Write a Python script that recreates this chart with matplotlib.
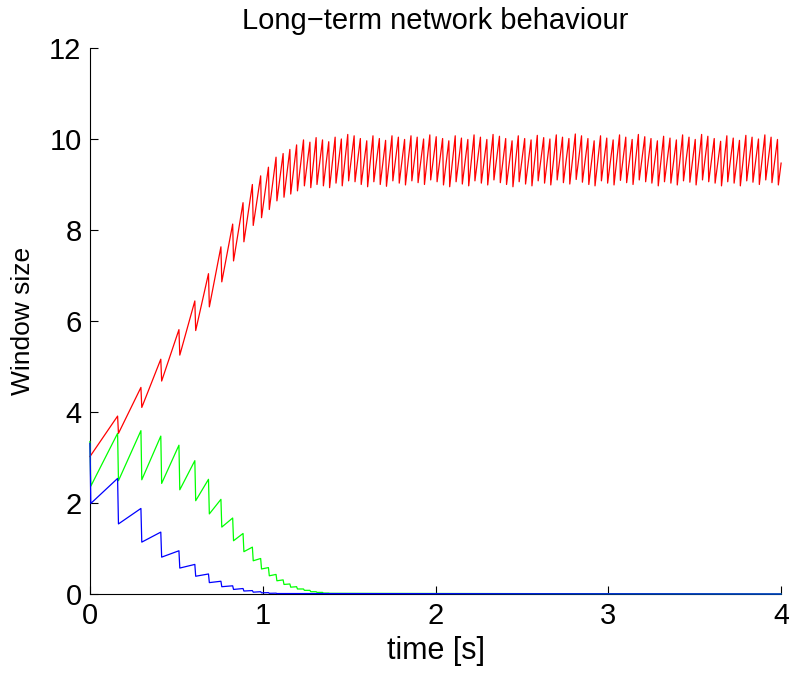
import matplotlib
matplotlib.use("Agg")
import matplotlib.pyplot as plt

plt.rcParams["font.family"] = ["Liberation Sans", "DejaVu Sans"]

# drop (loss) instants shared by all flows [s]
drop_times = [
    0.160, 0.295, 0.410, 0.515, 0.607, 0.686, 0.758, 0.826, 0.886, 0.940,
    0.988, 1.033, 1.077, 1.118, 1.157, 1.196,
    1.236, 1.273, 1.309, 1.346, 1.382, 1.419, 1.455, 1.492, 1.529, 1.565,
    1.602, 1.638, 1.675, 1.711, 1.748, 1.785, 1.821, 1.858, 1.894, 1.931,
    1.967, 2.004, 2.041, 2.077, 2.114, 2.150, 2.187, 2.223, 2.260, 2.297,
    2.333, 2.370, 2.406, 2.443, 2.479, 2.516, 2.553, 2.589, 2.626, 2.662,
    2.699, 2.735, 2.772, 2.809, 2.845, 2.882, 2.918, 2.955, 2.991, 3.028,
    3.065, 3.101, 3.138, 3.174, 3.211, 3.247, 3.284, 3.320, 3.357, 3.394,
    3.430, 3.467, 3.503, 3.540, 3.576, 3.613, 3.650, 3.686, 3.723, 3.759,
    3.796, 3.832, 3.869, 3.906, 3.942, 3.979,
]

# red flow: window just before / after each drop
red_start = 3.02
red_end = 9.47
red_peaks = [
    3.91, 4.54, 5.16, 5.81, 6.44, 7.04, 7.63, 8.13, 8.60, 9.00,
    9.19, 9.38, 9.60, 9.68, 9.77, 9.87,
    9.98, 9.93, 10.03, 9.98, 9.94, 10.04, 10.00, 10.10, 10.07, 10.01,
    9.96, 10.07, 10.01, 9.97, 10.07, 10.04, 9.99, 10.07, 10.04, 10.00,
    10.09, 10.05,
    10.01, 9.96, 10.07, 10.02, 9.99, 10.09, 10.04, 9.99, 10.10, 10.06,
    10.01, 9.96, 10.07, 10.01, 9.98, 10.08, 10.03, 10.00, 10.09, 10.04,
    10.01, 10.11,
    10.07, 10.01, 9.96, 10.07, 10.02, 9.98, 10.09, 10.04, 9.99, 10.10,
    10.05, 10.01, 9.96, 10.06, 10.02, 9.98, 10.09, 10.04, 9.99, 10.10,
    10.06, 10.01, 9.95, 10.07, 10.02, 9.97, 10.08, 10.04, 10.00, 10.09,
    10.04, 9.99,
]
red_troughs = [
    3.53, 4.10, 4.68, 5.25, 5.79, 6.31, 6.86, 7.32, 7.74, 8.10,
    8.27, 8.45, 8.64, 8.72, 8.79, 8.86,
    8.97, 8.93, 9.00, 8.97, 8.93, 9.03, 8.97, 9.08, 9.06, 9.00,
    8.95, 9.06, 9.00, 8.96, 9.08, 9.03, 8.99, 9.08, 9.04, 9.00,
    9.10, 9.06,
    8.99, 8.95, 9.06, 9.01, 8.97, 9.08, 9.03, 8.99, 9.10, 9.04,
    9.00, 8.95, 9.06, 9.01, 8.97, 9.08, 9.03, 8.99, 9.10, 9.04,
    9.01, 9.11,
    9.05, 9.00, 8.97, 9.08, 9.03, 8.99, 9.09, 9.04, 9.00, 9.10,
    9.06, 9.03, 8.97, 9.06, 9.03, 8.99, 9.08, 9.05, 8.99, 9.10,
    9.06, 9.03, 8.97, 9.06, 9.03, 8.97, 9.08, 9.05, 9.00, 9.10,
    9.04, 8.99,
]

# green flow
green_start = [3.35, 2.37]
green_peaks = [3.53, 3.59, 3.47, 3.27, 2.93, 2.52, 2.08, 1.67, 1.33, 1.03,
               0.78, 0.58, 0.43, 0.31, 0.22, 0.16, 0.11, 0.08, 0.05, 0.035, 0.02]
green_troughs = [2.49, 2.51, 2.43, 2.29, 2.05, 1.76, 1.47, 1.17, 0.93, 0.73,
                 0.55, 0.40, 0.29, 0.21, 0.15, 0.11, 0.08, 0.05, 0.035, 0.02, 0.015]

# blue flow
blue_start = [3.31, 1.99]
blue_peaks = [2.54, 1.88, 1.36, 0.95, 0.65, 0.44, 0.28, 0.18, 0.12, 0.075,
              0.05, 0.03, 0.018]
blue_troughs = [1.54, 1.14, 0.81, 0.57, 0.39, 0.25, 0.16, 0.10, 0.065, 0.04,
                0.025, 0.015, 0.01]

T_END = 4.0
DROP_DT = 0.005


def sawtooth(start, peaks, troughs, end_val):
    t, w = [0.0], [start[0]]
    if len(start) > 1:
        t.append(DROP_DT)
        w.append(start[1])
    for td, p, q in zip(drop_times, peaks, troughs):
        t += [td, td + DROP_DT]
        w += [p, q]
    t.append(T_END)
    w.append(end_val)
    return t, w


fig = plt.figure(figsize=(7.89, 6.73), dpi=100)
ax = fig.add_axes([0.114, 0.1174, 0.876, 0.8113])

line_kw = dict(lw=0.9, clip_on=False, zorder=3)
ax.plot(*sawtooth([red_start], red_peaks, red_troughs, red_end), color="#ff0000", **line_kw)
ax.plot(*sawtooth(green_start, green_peaks, green_troughs, 0.0), color="#00ff00", **line_kw)
ax.plot(*sawtooth(blue_start, blue_peaks, blue_troughs, 0.0), color="#0000ff", **line_kw)

ax.set_xlim(0, 4)
ax.set_ylim(0, 12)
ax.set_xticks([0, 1, 2, 3, 4])
ax.set_yticks(range(0, 13, 2))
ax.spines["top"].set_visible(False)
ax.spines["right"].set_visible(False)
for s in ("left", "bottom"):
    ax.spines[s].set_linewidth(0.8)
ax.tick_params(direction="in", length=6, width=0.8, labelsize=21, pad=6)

ax.set_xlabel("time [s]", fontsize=22, labelpad=4)
ax.set_ylabel("Window size", fontsize=19, labelpad=10)
ax.set_title("Long\u2212term network behaviour", fontsize=21, pad=14)

fig.savefig("out.png", dpi=100)
